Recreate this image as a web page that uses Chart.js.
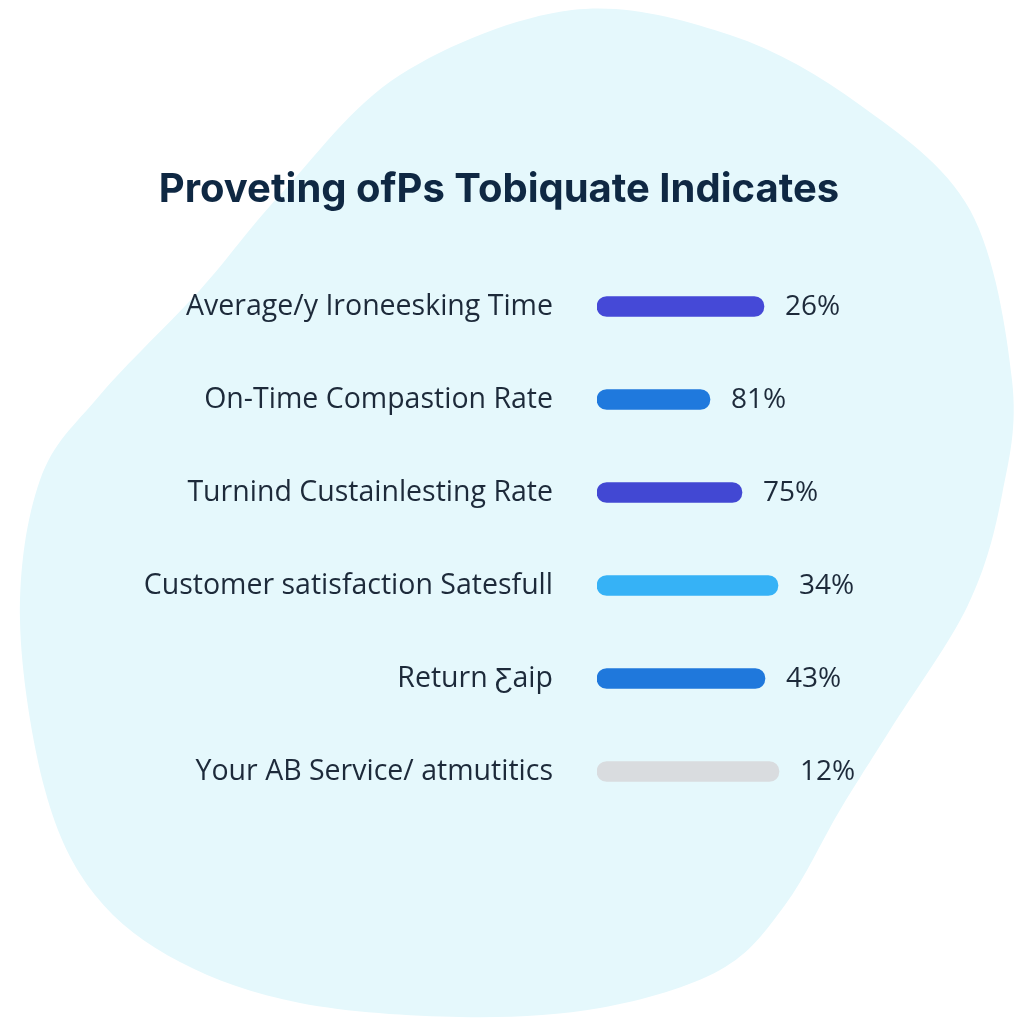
<!DOCTYPE html>
<html>
<head>
<meta charset="utf-8">
<script src="https://cdn.jsdelivr.net/npm/chart.js@4.4.0/dist/chart.umd.min.js"></script>
<style>
  html, body { margin: 0; padding: 0; background: #ffffff; }
  #wrap { width: 1024px; height: 1024px; }
</style>
</head>
<body>
<div id="wrap"><canvas id="kpi-chart" width="1024" height="1024"></canvas></div>
<script>
var titleText = 'Proveting ofPs Tobiquate Indicates';
var categories = [
  'Average/y Ironeesking Time',
  'On-Time Compastion Rate',
  'Turnind Custainlesting Rate',
  'Customer satisfaction Satesfull',
  'Return Ƹaip',
  'Your AB Service/ atmutitics'
];
// bar lengths as drawn (0-100 track)
var barValues = [83.5, 56.5, 72.5, 90.5, 84, 91];
// the percentage text printed beside each bar
var valueLabels = ['26%', '81%', '75%', '34%', '43%', '12%'];
var barColors = ['#4549d7', '#1f79dd', '#4248d3', '#36b2f6', '#1f78dc', '#d9dcdf'];

// soft background blob + centred title
var blobPlugin = {
  id: 'blob',
  beforeDraw: function (chart) {
    var ctx = chart.ctx;
    var pts = [
      [572, 10], [730, 35], [860, 105], [970, 210], [1012, 380], [1002, 495],
      [968, 605], [890, 730], [840, 810], [785, 905], [720, 970], [600, 1008],
      [460, 1017], [300, 1003], [180, 962], [95, 895], [45, 790], [20, 620],
      [40, 480], [100, 395], [200, 290], [280, 195], [400, 75]
    ];
    ctx.save();
    ctx.fillStyle = '#e5f8fc';
    ctx.beginPath();
    var n = pts.length;
    ctx.moveTo(pts[0][0], pts[0][1]);
    for (var i = 0; i < n; i++) {
      var p0 = pts[(i - 1 + n) % n], p1 = pts[i], p2 = pts[(i + 1) % n], p3 = pts[(i + 2) % n];
      ctx.bezierCurveTo(
        p1[0] + (p2[0] - p0[0]) / 6, p1[1] + (p2[1] - p0[1]) / 6,
        p2[0] - (p3[0] - p1[0]) / 6, p2[1] - (p3[1] - p1[1]) / 6,
        p2[0], p2[1]
      );
    }
    ctx.closePath();
    ctx.fill();

    ctx.font = 'bold 40px Inter, "Open Sans", sans-serif';
    ctx.fillStyle = '#0f2843';
    ctx.textAlign = 'center';
    ctx.textBaseline = 'middle';
    ctx.fillText(titleText, 499, 190);
    ctx.restore();
  }
};

// percentage text to the right of each bar
var valueTextPlugin = {
  id: 'valueText',
  afterDatasetsDraw: function (chart) {
    var ctx = chart.ctx;
    var meta = chart.getDatasetMeta(0);
    ctx.save();
    ctx.font = '28px "Open Sans", sans-serif';
    ctx.fillStyle = '#1d2a3a';
    ctx.textAlign = 'left';
    ctx.textBaseline = 'middle';
    meta.data.forEach(function (bar, i) {
      ctx.fillText(valueLabels[i], bar.x + 21, bar.y + 1);
    });
    ctx.restore();
  }
};

var config = {
  type: 'bar',
  plugins: [blobPlugin, valueTextPlugin],
  data: {
    labels: categories,
    datasets: [{
      data: barValues,
      backgroundColor: barColors,
      barThickness: 20,
      borderRadius: 10,
      borderSkipped: false
    }]
  },
  options: {
    indexAxis: 'y',
    responsive: false,
    animation: false,
    layout: {
      padding: { top: 260, bottom: 206, left: 0, right: 227 }
    },
    plugins: {
      legend: { display: false },
      tooltip: { enabled: false },
      title: { display: false }
    },
    scales: {
      x: {
        display: false,
        min: 0,
        max: 100
      },
      y: {
        afterFit: function (scale) { scale.width = 597; },
        grid: { display: false },
        border: { display: false },
        ticks: {
          color: '#1d2a3a',
          padding: 36,
          font: { family: '"Open Sans", sans-serif', size: 28.5 }
        }
      }
    }
  }
};

new Chart(document.getElementById('kpi-chart').getContext('2d'), config);
</script>
</body>
</html>
